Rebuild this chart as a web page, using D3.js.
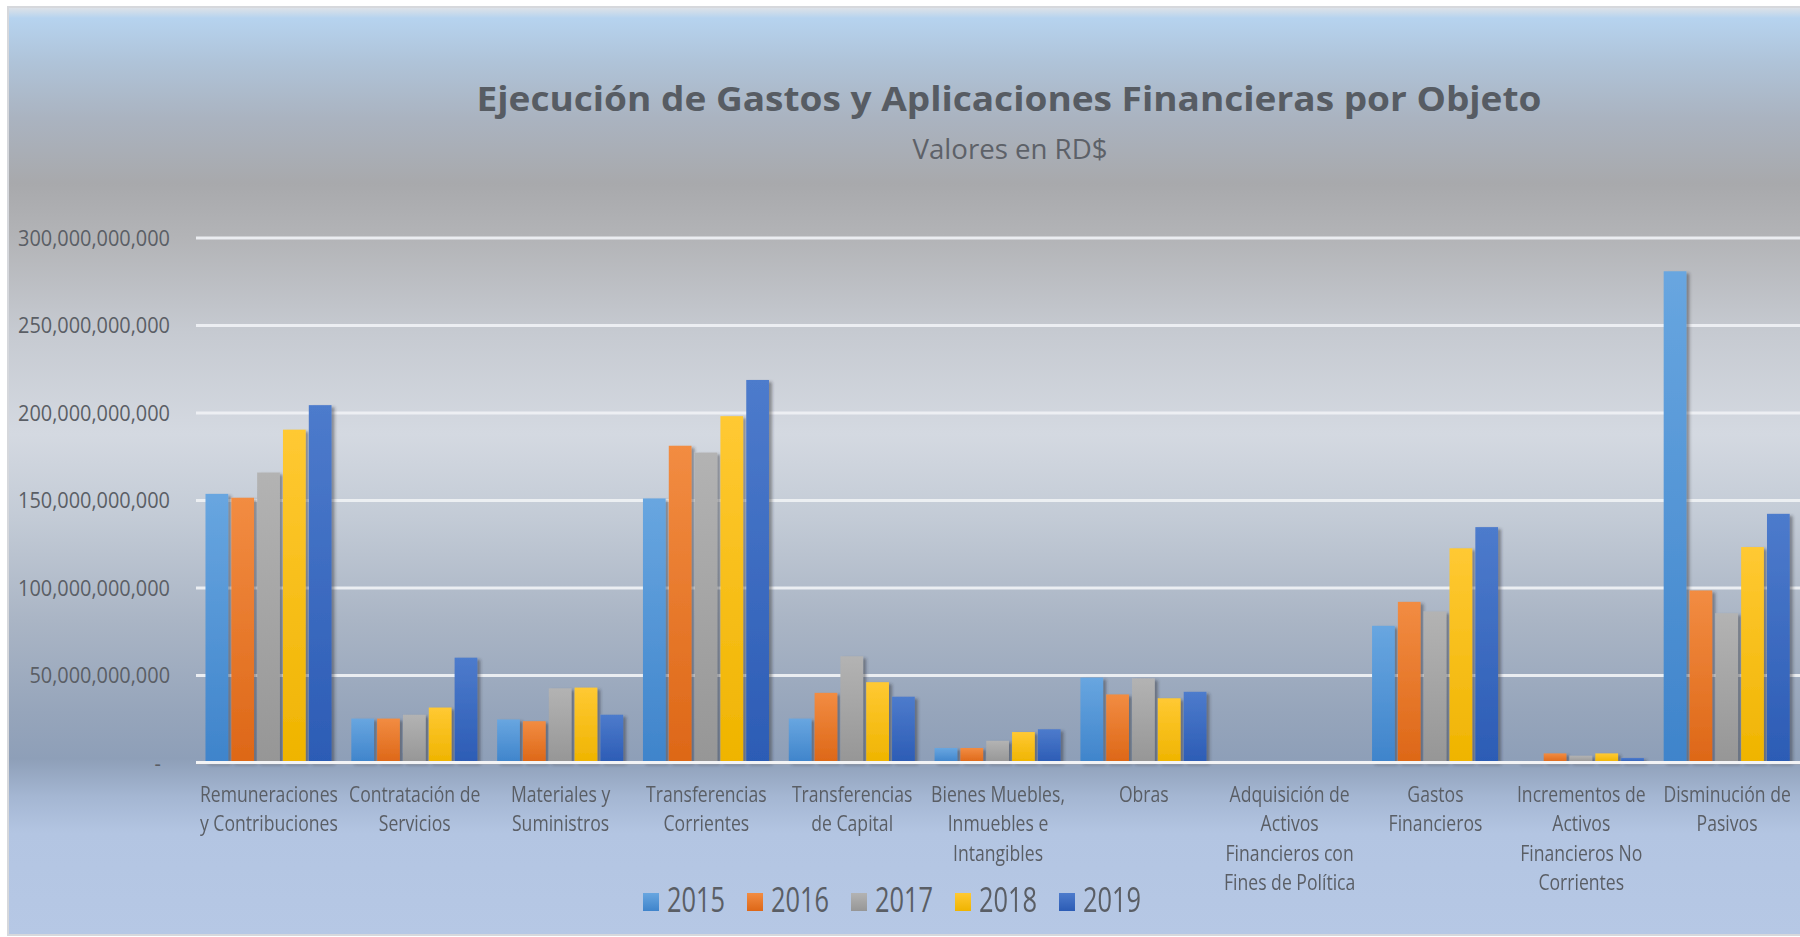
<!DOCTYPE html>
<html>
<head>
<meta charset="utf-8">
<script src="https://cdn.jsdelivr.net/npm/d3@7"></script>
<style>
    html, body { margin: 0; padding: 0; background: #ffffff; overflow: hidden; }
    svg { display: block; font-family: "Open Sans", "Noto Sans", sans-serif; }
</style>
</head>
<body>
<svg id="chart" width="1800" height="937"></svg>
<script>

// categorias (los saltos de linea son los cortes de la etiqueta)
const categories = [
    'Remuneraciones\ny Contribuciones',
    'Contratación de\nServicios',
    'Materiales y\nSuministros',
    'Transferencias\nCorrientes',
    'Transferencias\nde Capital',
    'Bienes Muebles,\nInmuebles e\nIntangibles',
    'Obras',
    'Adquisición de\nActivos\nFinancieros con\nFines de Política',
    'Gastos\nFinancieros',
    'Incrementos de\nActivos\nFinancieros No\nCorrientes',
    'Disminución de\nPasivos'
];

const years = ['2015', '2016', '2017', '2018', '2019'];

// valores en miles de millones de RD$
const v2015 = [153.5, 25.1, 24.6, 150.9, 25.1, 8.3, 48.5, 0, 78.1, 0.6, 280.7];
const v2016 = [151.3, 25.1, 23.6, 181.0, 39.8, 8.3, 38.9, 0, 91.8, 5.2, 98.3];
const v2017 = [165.7, 27.3, 42.4, 177.1, 60.7, 12.4, 48.1, 0, 86.3, 3.9, 85.3];
const v2018 = [190.2, 31.4, 42.8, 197.9, 45.9, 17.4, 36.7, 0, 122.4, 5.2, 123.1];
const v2019 = [204.2, 59.9, 27.3, 218.6, 37.6, 19.0, 40.4, 0, 134.5, 2.6, 142.1];

const yTicks = [0, 50e9, 100e9, 150e9, 200e9, 250e9, 300e9];

const seriesValues = [v2015, v2016, v2017, v2018, v2019];
const colors = {
    '2015': ['#68a6e0', '#3f84cb'],
    '2016': ['#f28c42', '#dd6717'],
    '2017': ['#b3b3b3', '#969696'],
    '2018': ['#ffc933', '#efb400'],
    '2019': ['#4d7bcc', '#2c5cb5']
};

const svg = d3.select('#chart');
const W = 1800, H = 937;
const plot = {left: 196, right: 1800, top: 237.5, bottom: 762.5};

const defs = svg.append('defs');

// fondo degradado estilo Excel
const bg = defs.append('linearGradient')
    .attr('id', 'bg').attr('x1', 0).attr('y1', 0).attr('x2', 0).attr('y2', 1);
[
    [0.000, '#e0e3e7'], [0.012, '#b6d3ef'], [0.060, '#afc3d8'], [0.120, '#aab3c0'],
    [0.190, '#a8a9ac'], [0.250, '#b3b4b7'], [0.350, '#c6cad1'], [0.460, '#d4d9e1'],
    [0.550, '#c3cbd6'], [0.660, '#aab5c5'], [0.760, '#96a5bb'], [0.810, '#8e9fb8'],
    [0.850, '#a4b6d2'], [0.890, '#b3c5e2'], [1.000, '#b6c8e5']
].forEach(([o, c]) => bg.append('stop').attr('offset', o).attr('stop-color', c));

years.forEach(yr => {
    const g = defs.append('linearGradient')
        .attr('id', `bar-${yr}`).attr('x1', 0).attr('y1', 0).attr('x2', 0).attr('y2', 1);
    g.append('stop').attr('offset', 0).attr('stop-color', colors[yr][0]);
    g.append('stop').attr('offset', 1).attr('stop-color', colors[yr][1]);
});

defs.append('filter')
    .attr('id', 'shadow').attr('x', '-20%').attr('y', '-5%').attr('width', '160%').attr('height', '110%')
    .append('feDropShadow')
    .attr('dx', 3).attr('dy', 2).attr('stdDeviation', 1.6)
    .attr('flood-color', '#2b2f36').attr('flood-opacity', 0.45);

svg.append('rect')
    .attr('x', 8).attr('y', 7)
    .attr('width', W).attr('height', H - 9)
    .attr('fill', 'url(#bg)')
    .attr('stroke', '#d6d8dc').attr('stroke-width', 2);

function squeeze(sel, k) {
    sel.each(function () {
        const w = this.getComputedTextLength();
        d3.select(this).attr('textLength', w * k).attr('lengthAdjust', 'spacingAndGlyphs');
    });
}

// titulo
svg.append('text')
    .attr('x', 1009).attr('y', 111)
    .attr('text-anchor', 'middle')
    .attr('font-size', 34).attr('font-weight', 700)
    .attr('fill', '#575c63')
    .attr('textLength', 1065).attr('lengthAdjust', 'spacingAndGlyphs')
    .text('Ejecución de Gastos y Aplicaciones Financieras por Objeto');

svg.append('text')
    .attr('x', 1010).attr('y', 159)
    .attr('text-anchor', 'middle')
    .attr('font-size', 28)
    .attr('fill', '#5d6168')
    .attr('textLength', 195).attr('lengthAdjust', 'spacingAndGlyphs')
    .text('Valores en RD$');

// escalas
const x0 = d3.scaleBand()
    .domain(categories)
    .range([plot.left, plot.right])
    .paddingInner(0).paddingOuter(0);

const x1 = d3.scaleBand()
    .domain(years)
    .range([9.5, x0.bandwidth() - 10.3])
    .paddingInner(0.12);

const y = d3.scaleLinear()
    .domain([0, 300e9])
    .range([plot.bottom, plot.top]);

// eje y con lineas de cuadricula
const yAxis = svg.append('g')
    .attr('transform', `translate(${plot.left},0)`)
    .call(d3.axisLeft(y)
        .tickValues(yTicks)
        .tickSize(-(plot.right - plot.left))
        .tickPadding(26)
        .tickFormat(d => d === 0 ? '-' : d3.format(',')(d)));

yAxis.select('.domain').remove();
yAxis.selectAll('.tick line')
    .attr('stroke', '#eef0f3').attr('stroke-width', 3).attr('stroke-opacity', 0.95);
yAxis.selectAll('.tick text')
    .attr('font-size', 22)
    .attr('font-family', '"Open Sans", sans-serif')
    .attr('fill', '#5a5e65')
    .attr('dy', '0.36em');
yAxis.selectAll('.tick')
    .filter(d => d === 0)
    .select('text')
    .attr('dx', -9);

const tickRef = yAxis.selectAll('.tick text').filter(d => d === 300e9).node().getComputedTextLength();
squeeze(yAxis.selectAll('.tick text'), 152 / tickRef);

// barras
const data = categories.map((c, i) => ({
    category: c,
    values: years.map((yr, s) => ({year: yr, value: seriesValues[s][i] * 1e9}))
}));

const groups = svg.append('g')
    .attr('filter', 'url(#shadow)')
    .selectAll('g')
    .data(data)
    .join('g')
    .attr('transform', d => `translate(${x0(d.category)},0)`);

groups.selectAll('rect')
    .data(d => d.values)
    .join('rect')
    .attr('x', d => x1(d.year))
    .attr('width', x1.bandwidth())
    .attr('y', d => y(d.value))
    .attr('height', d => y(0) - y(d.value))
    .attr('fill', d => `url(#bar-${d.year})`);

// linea del eje
svg.append('line')
    .attr('x1', plot.left).attr('x2', plot.right)
    .attr('y1', y(0) + 1.5).attr('y2', y(0) + 1.5)
    .attr('stroke', '#7d8a9e').attr('stroke-width', 2).attr('stroke-opacity', 0.6);
svg.append('line')
    .attr('x1', plot.left).attr('x2', plot.right)
    .attr('y1', y(0)).attr('y2', y(0))
    .attr('stroke', '#f2f3f5').attr('stroke-width', 3);

// etiquetas de categorias
const xAxis = svg.append('g')
    .attr('transform', `translate(0,${plot.bottom})`)
    .call(d3.axisBottom(x0).tickSize(0).tickFormat(''));
xAxis.select('.domain').remove();

const labelLines = [];
xAxis.selectAll('.tick').each(function (d) {
    const t = d3.select(this).select('text')
        .attr('y', 0).attr('dy', null)
        .attr('font-size', 22)
        .attr('font-family', '"Open Sans", sans-serif')
        .attr('fill', '#5a5e65');
    d.split('\n').forEach((line, i) => {
        const ts = t.append('tspan')
            .attr('x', 0)
            .attr('y', 39 + i * 29.5)
            .text(line);
        labelLines.push(ts.node());
    });
});

const labRef = labelLines.find(n => n.textContent === 'Remuneraciones').getComputedTextLength();
squeeze(d3.selectAll(labelLines), 138 / labRef);

// leyenda
const legend = svg.append('g')
    .attr('transform', 'translate(643,-4)')
    .selectAll('g')
    .data(years)
    .join('g')
    .attr('transform', (d, i) => `translate(${i * 104},0)`);

legend.append('rect')
    .attr('x', 0).attr('y', 897)
    .attr('width', 16).attr('height', 18)
    .attr('fill', d => `url(#bar-${d})`);

const legendText = legend.append('text')
    .attr('x', 24).attr('y', 916)
    .attr('font-size', 34)
    .attr('fill', '#5a5e65')
    .text(d => d);

const legRef = legendText.node().getComputedTextLength();
squeeze(legendText, 58 / legRef);

</script>
</body>
</html>
